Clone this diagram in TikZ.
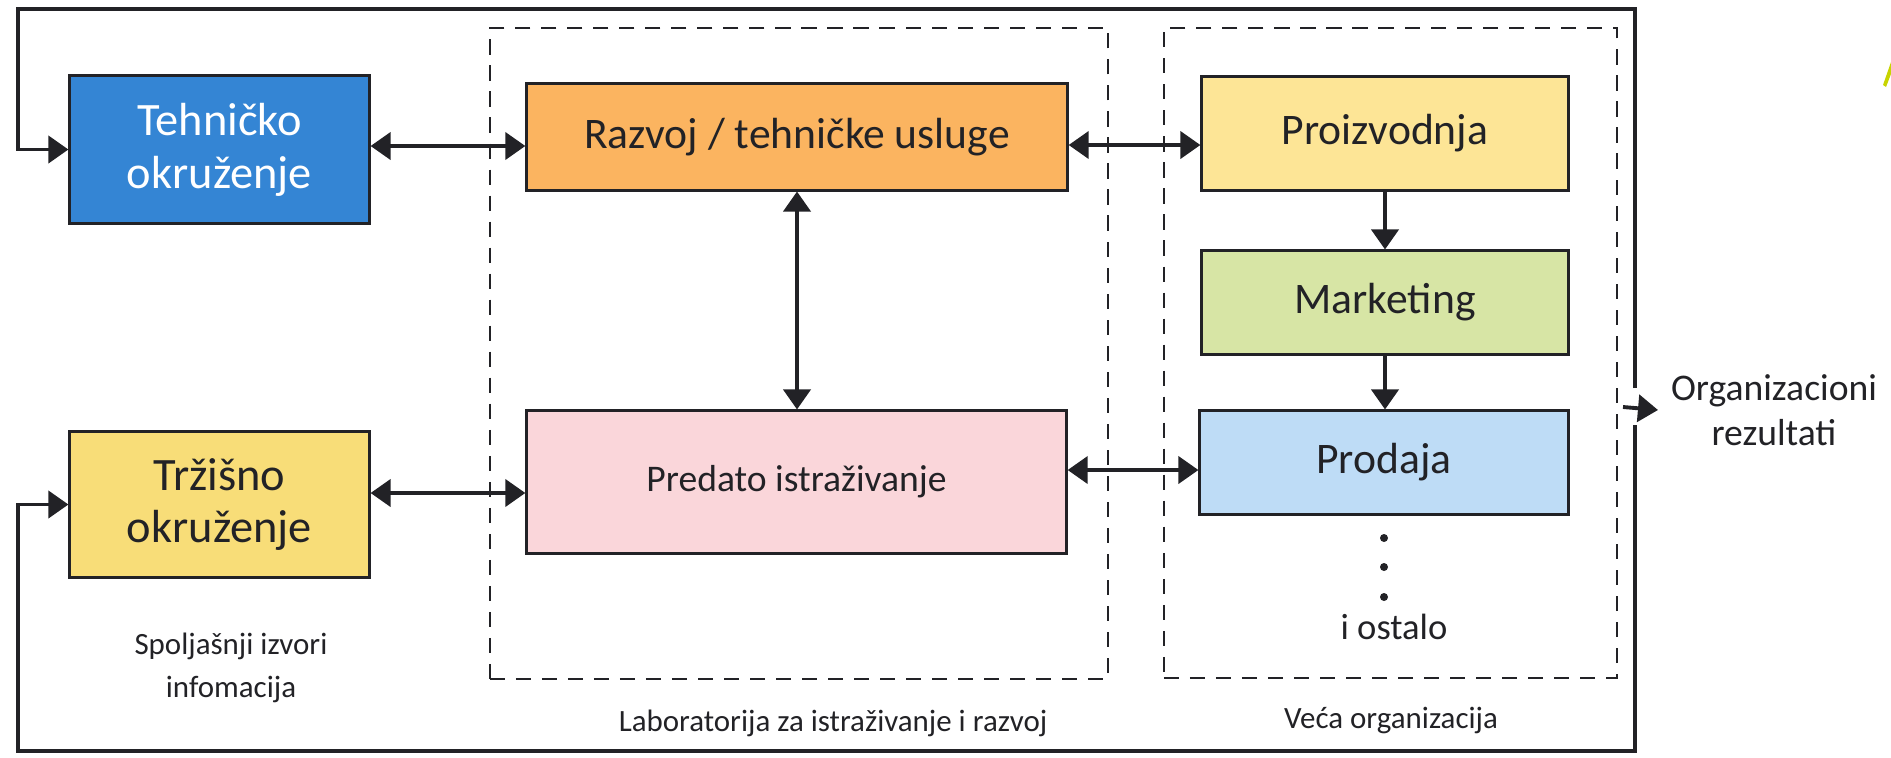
\documentclass[tikz,border=0pt]{standalone}
\usepackage{fontspec}
\setmainfont{Carlito}
\usepackage{tikz}
\usetikzlibrary{arrows.meta,positioning}
\definecolor{tehblue}{RGB}{52,133,212}
\definecolor{trzyellow}{RGB}{248,221,120}
\definecolor{razorange}{RGB}{251,180,96}
\definecolor{predpink}{RGB}{250,214,218}
\definecolor{proyellow}{RGB}{253,229,150}
\definecolor{markgreen}{RGB}{215,229,165}
\definecolor{prodblue}{RGB}{190,220,246}
\definecolor{ink}{RGB}{34,34,38}
\definecolor{limeart}{RGB}{200,212,0}
\tikzstyle{box} = [rectangle, draw=ink, line width=0.85pt, text=ink, align=center, inner sep=0pt]
\tikzstyle{bigbox} = [box, font=\fontsize{13.2}{15}\selectfont]
\tikzstyle{colbox} = [box, font=\fontsize{12.4}{14}\selectfont]
\tikzstyle{group} = [rectangle, draw=ink, line width=0.7pt, dash pattern=on 4.3pt off 3.1pt]
\tikzstyle{caption} = [align=center, text=ink, font=\fontsize{8.8}{12.2}\selectfont]
\tikzstyle{arrow} = [line width=1.1pt, draw=ink, -{Triangle[length=2mm,width=2.7mm]}]
\tikzstyle{dblarrow} = [arrow, {Triangle[length=2mm,width=2.7mm]}-{Triangle[length=2mm,width=2.7mm]}]

\begin{document}
\begin{tikzpicture}[x=0.01cm,y=-0.01cm]
\useasboundingbox (0,0) rectangle (1891,757);

% external sources
\node(tehn)[bigbox,fill=tehblue,text=white,minimum width=29.9mm,minimum height=14.7mm] at (219.5,149.5) {Tehničko\\okruženje};
\node(trz)[bigbox,fill=trzyellow,minimum width=29.9mm,minimum height=14.5mm] at (219.5,504.5) {Tržišno\\okruženje};
\node(spolj)[caption] at (231,668) {Spoljašnji izvori\\infomacija};

% R&D lab
\node(lab)[group,minimum width=61.8mm,minimum height=65.1mm] at (799,353.5) {};
\node(razvoj)[colbox,fill=razorange,minimum width=54mm,minimum height=10.6mm] at (797,137) {Razvoj / tehničke usluge};
\node(predato)[box,fill=predpink,font=\fontsize{10.7}{13}\selectfont,minimum width=53.9mm,minimum height=14.2mm] at (796.5,482) {Predato istraživanje};
\node(labname)[caption] at (833,723) {Laboratorija za istraživanje i razvoj};

% larger organization
\node(org)[group,minimum width=45.3mm,minimum height=65mm] at (1390.5,353) {};
\node(proiz)[colbox,fill=proyellow,minimum width=36.6mm,minimum height=11.3mm] at (1385,133.5) {Proizvodnja};
\node(market)[colbox,fill=markgreen,minimum width=36.6mm,minimum height=10.3mm] at (1385,302.5) {Marketing};
\node(prodaja)[colbox,fill=prodblue,minimum width=36.8mm,minimum height=10.3mm] at (1384,462.5) {Prodaja};
\node(ostalo)[text=ink,font=\fontsize{10.4}{12}\selectfont] at (1394,627) {i ostalo};
\node(orgname)[caption] at (1391,720) {Veća organizacija};

\node(rez)[align=center,text=ink,font=\fontsize{10.7}{12.8}\selectfont,inner sep=3.5pt] at (1774,410) {Organizacioni\\rezultati};

\coordinate (exit) at (1623,407);
\coordinate (upgap) at (1635,388);
\coordinate (downgap) at (1635,425);
\coordinate (topleft) at (18,9);
\coordinate (botleft) at (18,751);

\foreach \y in {538,567,597}
  \fill[ink] (1384,\y) circle (0.4mm);

\draw [dblarrow] ([yshift=0.35mm]tehn.east) -- ([yshift=0.35mm]razvoj.west |- tehn.east);
\draw [dblarrow] ([yshift=-0.8mm]razvoj.east) -- ([yshift=-0.8mm]proiz.west |- razvoj.east);
\draw [dblarrow] ([yshift=1.15mm]trz.east) -- ([yshift=1.15mm]predato.west |- trz.east);
\draw [dblarrow] ([yshift=-0.75mm]predato.east |- prodaja.west) -- ([yshift=-0.75mm]prodaja.west);
\draw [dblarrow] (razvoj.south) -- (razvoj.south |- predato.north);

\draw [arrow] (proiz) -- (market);
\draw [arrow] (market.south) -- (market.south |- prodaja.north);

% feedback frame
\draw [arrow] (upgap) |- (topleft) |- (tehn.west);
\draw [arrow] (downgap) |- (botleft) |- (trz.west);
\draw [arrow] (exit) -- (rez.west);

\fill[limeart] (1883,85) -- (1891,62) -- (1891,74) -- (1886,87) -- cycle;
\end{tikzpicture}
\end{document}
